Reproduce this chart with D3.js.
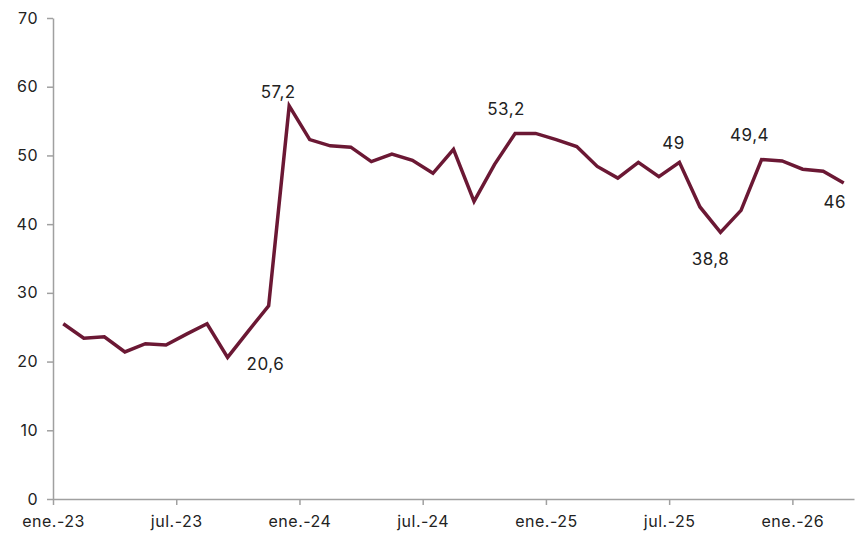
<!DOCTYPE html>
<html>
<head>
<meta charset="utf-8">
<script src="https://cdn.jsdelivr.net/npm/d3@7"></script>
<style>
  body { margin: 0; background: #fff; }
  text { font-family: "Inter", "Noto Sans", sans-serif; fill: #222; letter-spacing: 0.5px; }
</style>
</head>
<body>
<svg width="858" height="536"></svg>
<script>
// monthly values, ene.-23 .. mar.-26
var months = ["ene.-23","feb.-23","mar.-23","abr.-23","may.-23","jun.-23","jul.-23","ago.-23","sep.-23","oct.-23","nov.-23","dic.-23",
              "ene.-24","feb.-24","mar.-24","abr.-24","may.-24","jun.-24","jul.-24","ago.-24","sep.-24","oct.-24","nov.-24","dic.-24",
              "ene.-25","feb.-25","mar.-25","abr.-25","may.-25","jun.-25","jul.-25","ago.-25","sep.-25","oct.-25","nov.-25","dic.-25",
              "ene.-26","feb.-26","mar.-26"];
var values = [25.5, 23.4, 23.6, 21.4, 22.6, 22.4, 24.0, 25.5, 20.6, 24.4, 28.1, 57.2,
              52.3, 51.4, 51.2, 49.1, 50.2, 49.3, 47.4, 50.9, 43.3, 48.7, 53.2, 53.2,
              52.3, 51.3, 48.4, 46.7, 49.0, 46.9, 49.0, 42.5, 38.8, 42.0, 49.4, 49.2,
              48.0, 47.7, 46.0];
var yTicks = [0, 10, 20, 30, 40, 50, 60, 70];
var xTickIdx = [0, 6, 12, 18, 24, 30, 36];
// labelled points: index, text, offset
var labels = [{i: 8, t: "20,6", dx: 19, dy: 8, anchor: "start"},
              {i: 11, t: "57,2", dx: -11, dy: -13, anchor: "middle"},
              {i: 22, t: "53,2", dx: -9, dy: -23, anchor: "middle"},
              {i: 30, t: "49", dx: -6, dy: -18, anchor: "middle"},
              {i: 32, t: "38,8", dx: -10, dy: 28, anchor: "middle"},
              {i: 34, t: "49,4", dx: -12, dy: -23, anchor: "middle"},
              {i: 38, t: "46", dx: -9, dy: 20, anchor: "middle"}];

var svg = d3.select("svg");
var plotL = 53, plotR = 854, plotT = 18, plotB = 499;

var x = d3.scaleLinear().domain([-0.5, values.length - 0.5]).range([plotL, plotR]);
var y = d3.scaleLinear().domain([0, 70]).range([plotB, plotT]);

var yAxis = svg.append("g")
    .attr("transform", "translate(" + plotL + ",0)")
    .call(d3.axisLeft(y).tickValues(yTicks).tickSize(6).tickPadding(9).tickSizeOuter(0));
yAxis.selectAll("text").style("font-size", "16px");

var xAxis = svg.append("g")
    .attr("transform", "translate(0," + plotB + ")")
    .call(d3.axisBottom(x)
        .tickValues(xTickIdx.map(function(d){ return d - 0.5; }))
        .tickFormat(function(d){ return months[d + 0.5]; })
        .tickSize(6).tickPadding(11)
        .tickSizeOuter(0));
xAxis.selectAll("text").style("font-size", "16px");

svg.selectAll(".domain, .tick line").attr("stroke", "#a0a0a0").attr("stroke-width", 1.5);

var line = d3.line()
    .x(function(d, i){ return x(i); })
    .y(function(d){ return y(d); });

svg.append("path")
    .datum(values)
    .attr("d", line)
    .attr("fill", "none")
    .attr("stroke", "#6b1834")
    .attr("stroke-width", 3.5)
    .attr("stroke-linejoin", "miter");

svg.selectAll(".lbl")
    .data(labels)
    .enter()
    .append("text")
    .attr("class", "lbl")
    .attr("x", function(d){ return x(d.i) + d.dx; })
    .attr("y", function(d){ return y(values[d.i]) + d.dy; })
    .attr("text-anchor", function(d){ return d.anchor; })
    .attr("dominant-baseline", "middle")
    .style("font-size", "17px")
    .text(function(d){ return d.t; });
</script>
</body>
</html>
